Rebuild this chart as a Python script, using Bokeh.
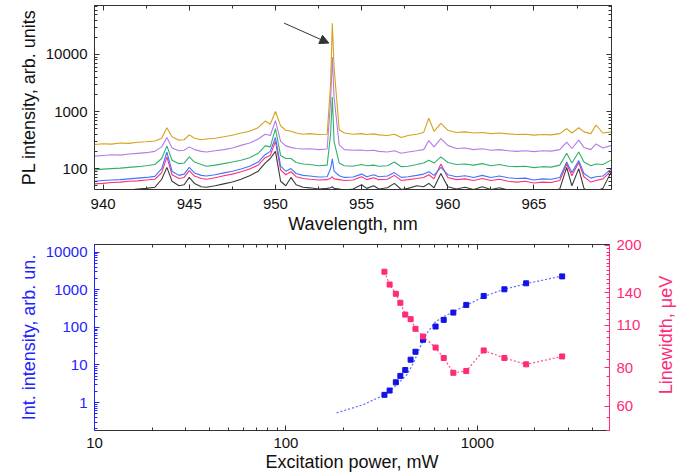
import math
from bokeh.plotting import figure
from bokeh.layouts import column, row
from bokeh.models import (Range1d, LogScale, LogAxis, LinearAxis, FixedTicker,
                          PrintfTickFormatter, Arrow, NormalHead)
from bokeh.core.properties import value
from bokeh.embed import file_html
from bokeh.resources import INLINE

# ---------------- Top panel data: PL spectra ----------------
wavelength = [939.5, 940.0, 940.5, 941.0, 941.5, 942.0, 942.5, 943.0, 943.4, 943.7,
              944.0, 944.4, 944.7, 945.0, 945.3, 945.7, 946.0, 946.5, 947.0, 947.5,
              948.0, 948.5, 949.0, 949.4, 949.7, 950.0, 950.3, 950.6, 950.9, 951.2,
              951.6, 952.0, 952.5, 953.0, 953.2, 953.3, 953.4, 953.7, 954.0, 954.5,
              955.0, 955.3, 955.7, 956.0, 956.5, 956.9, 957.3, 957.7, 958.2, 958.6,
              958.9, 959.2, 959.6, 960.0, 960.5, 961.0, 961.5, 962.0, 962.5, 963.0,
              963.5, 964.0, 964.5, 965.0, 965.5, 966.0, 966.5, 966.9, 967.2, 967.6,
              967.9, 968.3, 968.6, 969.0, 969.5]

spec_gold = [265, 272, 268, 280, 276, 290, 295, 305, 340, 520,
             360, 315, 320, 390, 340, 320, 330, 340, 360, 385,
             420, 450, 520, 680, 600, 1000, 560, 470, 450, 420,
             400, 410, 395, 400, 3000, 35000, 6000, 480, 420, 400,
             410, 395, 405, 390, 380, 400, 350, 380, 400, 430,
             760, 450, 620, 470, 430, 440, 420, 430, 410, 420,
             405, 395, 400, 385, 395, 390, 410, 500, 420, 520,
             440, 410, 580, 420, 440]
spec_purple = [165, 170, 175, 172, 180, 185, 190, 200, 240, 350,
               230, 205, 210, 240, 215, 200, 195, 205, 215, 230,
               255, 280, 330, 400, 380, 690, 300, 250, 235, 225,
               220, 222, 215, 220, 1500, 9000, 1800, 260, 215, 210,
               212, 205, 210, 200, 195, 205, 185, 195, 205, 215,
               310, 240, 335, 255, 225, 230, 215, 222, 210, 215,
               205, 200, 205, 198, 205, 202, 215, 290, 225, 315,
               235, 215, 270, 230, 255]
spec_green = [95, 98, 100, 102, 105, 108, 112, 118, 150, 250,
              140, 122, 125, 160, 130, 118, 110, 115, 122, 130,
              140, 155, 185, 250, 240, 500, 170, 150, 150, 128,
              120, 118, 112, 115, 400, 1800, 300, 125, 112, 110,
              118, 112, 115, 110, 112, 130, 108, 110, 118, 125,
              140, 125, 160, 128, 118, 120, 115, 122, 112, 118,
              110, 108, 110, 104, 108, 106, 115, 185, 125, 195,
              130, 112, 120, 118, 142]
spec_blue = [60, 62, 63, 64, 66, 68, 70, 73, 100, 195,
             90, 76, 80, 105, 84, 76, 74, 78, 84, 90,
             98, 110, 130, 175, 200, 350, 110, 90, 100, 82,
             76, 74, 71, 72, 100, 148, 90, 75, 70, 71,
             80, 72, 78, 72, 74, 85, 70, 72, 76, 80,
             88, 76, 105, 78, 72, 75, 70, 76, 70, 74,
             69, 67, 68, 63, 66, 65, 70, 130, 85, 138,
             82, 68, 72, 74, 100]
spec_pink = [54, 55, 57, 58, 60, 61, 63, 65, 85, 160,
             78, 67, 70, 92, 74, 67, 65, 69, 75, 80,
             88, 98, 115, 155, 170, 300, 95, 78, 88, 72,
             67, 65, 63, 64, 68, 72, 66, 64, 62, 63,
             72, 64, 69, 64, 65, 76, 62, 64, 67, 70,
             78, 66, 120, 70, 64, 66, 62, 67, 62, 65,
             60, 58, 60, 56, 58, 57, 62, 120, 75, 128,
             72, 58, 62, 66, 92]
spec_black = [38, 39, 40, 41, 42, 44, 45, 47, 65, 105,
              60, 50, 52, 70, 55, 48, 47, 50, 54, 58,
              65, 75, 90, 125, 150, 200, 60, 50, 70, 52,
              47, 46, 44, 45, 46, 48, 45, 44, 42, 44,
              52, 45, 50, 44, 46, 55, 43, 45, 50, 48,
              55, 46, 82, 48, 44, 47, 43, 48, 43, 46,
              42, 41, 42, 40, 42, 41, 44, 105, 50, 100,
              45, 38, 40, 45, 90]

arrow_start = (950.5, 35400)
arrow_end = (953.1, 15800)

# ---------------- Bottom panel data ----------------
power_mw = [327, 348, 375, 396, 420, 448, 475, 520, 605, 667, 749, 875, 1079, 1384, 1798, 2773]
int_intensity = [1.6, 2.08, 3.45, 5.1, 7.3, 13.8, 22.4, 46.7, 105, 158, 247, 395, 683, 1028, 1483, 2270]
linewidth_uev = [164, 149, 139, 130, 119, 115, 107, 101, 93, 86, 77, 78, 91, 86, 82, 87]
fit_power = [184, 254, 327, 380, 429, 464, 504, 545, 606, 694, 848, 1079, 1374, 1892, 2773]
fit_intensity = [0.53, 0.88, 1.6, 3.0, 5.5, 11.3, 31, 70, 142, 214, 356, 654, 1028, 1537, 2312]

top_ticks_wl = [940, 945, 950, 955, 960, 965]
top_minor_wl = [942.5, 947.5, 952.5, 957.5, 962.5, 967.5]
pl_ticks = [100, 1000, 10000]
power_ticks = [10, 100, 1000]
int_ticks = [1, 10, 100, 1000, 10000]
lw_ticks = [60, 80, 110, 140, 200]

FONT = "Liberation Sans"
BLUE = "#2323ff"
PINK = "#ff2a78"
DARK = "#333333"


def log_minor(lo_exp, hi_exp):
    return [k * 10 ** e for e in range(lo_exp, hi_exp + 1) for k in range(2, 10)]


def style_axis(ax, color=DARK, tick_size="15px", label_size="18px", label_color=None):
    ax.major_tick_in = 5
    ax.major_tick_out = 0
    ax.minor_tick_in = 3
    ax.minor_tick_out = 0
    ax.axis_line_color = color
    ax.major_tick_line_color = color
    ax.minor_tick_line_color = color
    ax.major_label_text_color = label_color or color
    ax.axis_label_text_color = label_color or color
    ax.major_label_text_font = FONT
    ax.axis_label_text_font = FONT
    ax.axis_label_text_font_style = "normal"
    ax.axis_label_text_font_size = label_size
    ax.major_label_text_font_size = tick_size
    ax.major_label_standoff = 7
    ax.axis_label_standoff = 4


def mirror_axes(p, side, log, majors, minors, color=DARK):
    # Tick-only mirrored axes (no labels): one for the long ticks, one for the short ones.
    for locs, length in ((minors, 3), (majors, 5)):
        cls = LogAxis if log else LinearAxis
        ax = cls(ticker=FixedTicker(ticks=[], minor_ticks=locs))
        ax.minor_tick_in = length
        ax.minor_tick_out = 0
        ax.major_tick_in = 0
        ax.major_tick_out = 0
        ax.axis_line_color = color
        ax.minor_tick_line_color = color
        p.add_layout(ax, side)


# ---------------- Top figure ----------------
p1 = figure(frame_width=517, frame_height=184,
            x_range=Range1d(939.5, 969.5), y_range=Range1d(43, 72000),
            y_axis_type="log", output_backend="svg", toolbar_location=None,
            min_border_left=94, min_border_right=84, min_border_top=5, min_border_bottom=0)
p1.grid.visible = False
p1.outline_line_color = DARK

p1.xaxis.ticker = FixedTicker(ticks=top_ticks_wl, minor_ticks=top_minor_wl)
p1.yaxis.ticker = FixedTicker(ticks=pl_ticks, minor_ticks=log_minor(1, 4))
p1.yaxis.formatter = PrintfTickFormatter(format="%d")
p1.xaxis.axis_label = "Wavelength, nm"
p1.yaxis.axis_label = "PL intensity, arb. units"
style_axis(p1.xaxis[0], label_color="#111111")
style_axis(p1.yaxis[0], label_color="#111111")
p1.xaxis[0].axis_label_standoff = 2
p1.xaxis[0].major_label_standoff = 9

mirror_axes(p1, "above", False, top_ticks_wl, top_minor_wl)
mirror_axes(p1, "right", True, pl_ticks, log_minor(1, 4))

spectra = [(spec_black, "#3a3a3a"), (spec_pink, "#ff2f76"), (spec_blue, "#3f74ff"),
           (spec_green, "#33b06a"), (spec_purple, "#b57ce8"), (spec_gold, "#d4a21c")]
for vals, col in spectra:
    p1.line(wavelength, vals, line_color=col, line_width=1.1)

p1.add_layout(Arrow(end=NormalHead(size=9, fill_color=DARK, line_color=DARK),
                    x_start=arrow_start[0], y_start=arrow_start[1],
                    x_end=arrow_end[0], y_end=arrow_end[1],
                    line_color=DARK, line_width=1))

# ---------------- Bottom figure ----------------
P2_FW, P2_FH = 515, 186
p2 = figure(frame_width=P2_FW, frame_height=P2_FH,
            x_range=Range1d(10, 4900), y_range=Range1d(0.18, 16000),
            x_axis_type="log", y_axis_type="log", output_backend="svg", toolbar_location=None,
            min_border_left=94, min_border_right=40, min_border_top=8, min_border_bottom=0)
p2.grid.visible = False
p2.outline_line_color = DARK
p2.extra_y_ranges = {"lw": Range1d(50, 201)}
p2.extra_y_scales = {"lw": LogScale()}

p2.xaxis.ticker = FixedTicker(ticks=power_ticks, minor_ticks=log_minor(1, 3))
p2.xaxis.formatter = PrintfTickFormatter(format="%d")
p2.xaxis.axis_label = "Excitation power, mW"
style_axis(p2.xaxis[0], label_color="#111111")
p2.xaxis[0].axis_label_standoff = 1

p2.yaxis.ticker = FixedTicker(ticks=int_ticks, minor_ticks=log_minor(-1, 4))
p2.yaxis.formatter = PrintfTickFormatter(format="%d")
p2.yaxis.axis_label = "Int. intensity, arb. un."
style_axis(p2.yaxis[0], color=BLUE)

mirror_axes(p2, "above", True, power_ticks, log_minor(1, 3))

lw_axis = LogAxis(y_range_name="lw",
                  ticker=FixedTicker(ticks=lw_ticks, minor_ticks=list(range(50, 201, 5))),
                  formatter=PrintfTickFormatter(format="%d"))
style_axis(lw_axis, color=PINK)
p2.add_layout(lw_axis, "right")

p2.line(fit_power, fit_intensity, line_color="#5b6bff", line_width=1.2, line_dash="2 2")
p2.scatter(power_mw, int_intensity, marker="square", size=5, fill_color="#1212e8", line_color="#1212e8")
p2.line(power_mw, linewidth_uev, y_range_name="lw", line_color="#ff4f90", line_width=1.2, line_dash="2 2")
p2.scatter(power_mw, linewidth_uev, y_range_name="lw", marker="square", size=5,
           fill_color=PINK, line_color=PINK)

# ---------------- Right-axis title strip (reads bottom-to-top) ----------------
STRIP_W, STRIP_H = 48, 237
p3 = figure(width=STRIP_W, height=STRIP_H, x_range=Range1d(0, STRIP_W), y_range=Range1d(0, STRIP_H),
            x_axis_location=None, y_axis_location=None, output_backend="svg",
            toolbar_location=None, min_border=0)
p3.grid.visible = False
p3.outline_line_color = None
p3.text(x=[16], y=[STRIP_H - 116], text=["Linewidth, μeV"], angle=math.pi / 2,
        text_align="center", text_baseline="middle",
        text_font=value(FONT), text_font_size="18px", text_color=PINK)

layout = column(p1, row(p2, p3))
open("out.html", "w").write(file_html(layout, INLINE))
